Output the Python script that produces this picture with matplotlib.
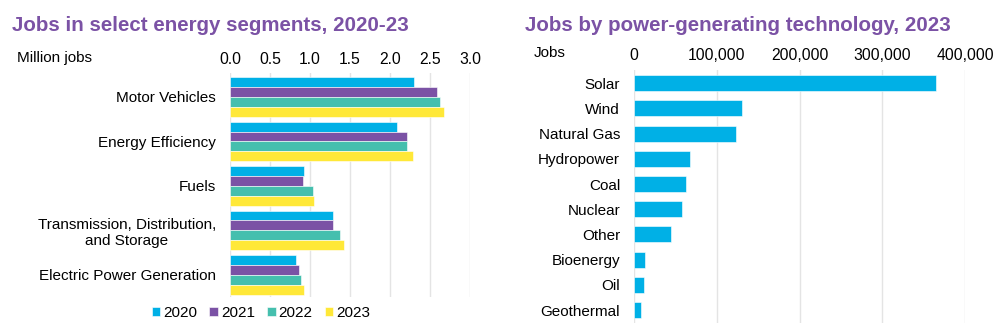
import matplotlib
matplotlib.use("Agg")
import matplotlib.pyplot as plt
import numpy as np

plt.rcParams['font.family'] = ['Liberation Sans', 'DejaVu Sans']

# segment jobs, million
segments = ["Motor Vehicles", "Energy Efficiency", "Fuels",
            "Transmission, Distribution,\nand Storage", "Electric Power Generation"]
years = ["2020", "2021", "2022", "2023"]
jobs_2020 = [2.30, 2.09, 0.93, 1.29, 0.83]
jobs_2021 = [2.59, 2.21, 0.91, 1.29, 0.86]
jobs_2022 = [2.62, 2.21, 1.04, 1.37, 0.89]
jobs_2023 = [2.67, 2.29, 1.05, 1.42, 0.93]

# power-generating technology jobs, 2023
techs = ["Solar", "Wind", "Natural Gas", "Hydropower", "Coal", "Nuclear",
         "Other", "Bioenergy", "Oil", "Geothermal"]
tech_jobs = [364800, 130900, 123300, 67300, 62800, 58000, 44300, 13300, 11700, 8500]

year_colors = ["#00B0E6", "#7B52A5", "#45BFAE", "#FFE838"]
purple = "#7B52A5"
grid_c = "#E4E4E4"

fig = plt.figure(figsize=(10, 3.36), dpi=100)

def style_axis(ax, xpad):
    ax.xaxis.tick_top()
    ax.tick_params(axis='x', length=0, labelsize=11.3, pad=xpad)
    ax.tick_params(axis='y', length=0, labelsize=11, pad=10)
    for s in ax.spines.values():
        s.set_visible(False)
    ax.grid(axis='x', color=grid_c, linewidth=1)
    ax.set_axisbelow(True)
    for lab in ax.get_yticklabels():
        lab.set_multialignment('center')

# left: grouped bars
ax1 = fig.add_axes([0.23, 0.116, 0.24, 0.667])
y = np.arange(len(segments))
h = 0.222
for i, vals in enumerate([jobs_2020, jobs_2021, jobs_2022, jobs_2023]):
    ax1.barh(y + (i - 1.5) * h, vals, height=h, color=year_colors[i],
             label=years[i], edgecolor='white', linewidth=0.4)
ax1.set_xlim(0, 3.0)
ax1.set_xticks(np.arange(0, 3.01, 0.5))
ax1.set_xticklabels([f"{v:.1f}" for v in np.arange(0, 3.01, 0.5)])
ax1.set_yticks(y)
ax1.set_yticklabels(segments)
ax1.set_ylim(4.5, -0.54)
style_axis(ax1, 4)
fig.text(0.017, 0.828, "Million jobs", fontsize=11, va='center', ha='left')
fig.text(0.012, 0.925, "Jobs in select energy segments, 2020-23", fontsize=14.8,
         fontweight='bold', color=purple, va='center', ha='left')

handles, labels = ax1.get_legend_handles_labels()
fig.legend(handles, labels, loc='center', bbox_to_anchor=(0.261, 0.068), ncol=4,
           frameon=False, fontsize=11, handlelength=0.55, handleheight=0.55,
           handletextpad=0.2, columnspacing=0.8)

# right: single series
ax2 = fig.add_axes([0.634, 0.0396, 0.331, 0.752])
y2 = np.arange(len(techs))
ax2.barh(y2, tech_jobs, height=0.63, color=year_colors[0],
         edgecolor='white', linewidth=0.4)
ax2.set_xlim(0, 400000)
ax2.set_xticks(np.arange(0, 400001, 100000))
ax2.set_xticklabels([f"{v:,}" for v in range(0, 400001, 100000)])
ax2.set_yticks(y2)
ax2.set_yticklabels(techs)
ax2.set_ylim(9.5, -0.52)
style_axis(ax2, 5)
fig.text(0.534, 0.842, "Jobs", fontsize=11, va='center', ha='left')
fig.text(0.525, 0.925, "Jobs by power-generating technology, 2023", fontsize=14.8,
         fontweight='bold', color=purple, va='center', ha='left')

fig.savefig("out.png", dpi=100)
